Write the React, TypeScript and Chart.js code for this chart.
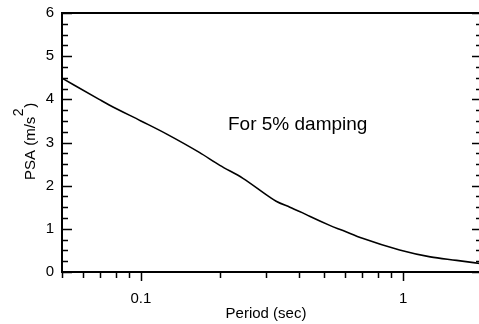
import React, { useEffect, useRef } from "react";
import { Chart, registerables } from "chart.js";

Chart.register(...registerables);

const periods = [0.05, 0.0693, 0.0757, 0.1, 0.125, 0.167, 0.2, 0.245, 0.309, 0.328, 0.37, 0.414, 0.44, 0.525, 0.59, 0.7, 0.97, 1.27, 1.6, 2.0];
const psa = [4.49, 4.0, 3.87, 3.5, 3.2, 2.77, 2.47, 2.17, 1.74, 1.64, 1.5, 1.37, 1.29, 1.08, 0.96, 0.78, 0.51, 0.35, 0.27, 0.19];

const yMajorTicks = [0, 1, 2, 3, 4, 5, 6];
const yMinorStep = 0.25;
const xMajorTicks = [0.1, 1];
const xMajorLabels = ["0.1", "1"];
const xMinorTicks = [0.05, 0.06, 0.07, 0.08, 0.09, 0.2, 0.3, 0.4, 0.5, 0.6, 0.7, 0.8, 0.9, 2];

const xTitle = "Period (sec)";
const yTitleMain = "PSA (m/s";
const yTitleSup = "2";
const yTitleEnd = ")";
const annotationText = "For 5% damping";

const FONT = '"Liberation Sans", Arial, Helvetica, sans-serif';
const CW = 490;
const CH = 324;

const axesPlugin = {
  id: "customAxes",
  afterDraw(chart: any) {
    const ctx = chart.ctx as CanvasRenderingContext2D;
    const a = chart.chartArea;
    const xs = chart.scales.x;
    const ys = chart.scales.y;
    ctx.save();
    ctx.strokeStyle = "#000";
    ctx.fillStyle = "#000";
    // frame
    ctx.lineWidth = 2;
    ctx.strokeRect(a.left, a.top, a.right - a.left, a.bottom - a.top);

    // y ticks (inward on both sides)
    ctx.lineWidth = 1.5;
    for (let v = 0; v <= 6.0001; v += yMinorStep) {
      const y = Math.round(ys.getPixelForValue(v)) + 0.5;
      const major = Math.abs(v - Math.round(v)) < 1e-6;
      const len = major ? 10 : 6;
      ctx.beginPath();
      ctx.moveTo(a.left, y);
      ctx.lineTo(a.left + len, y);
      ctx.moveTo(a.right, y);
      ctx.lineTo(a.right - len, y);
      ctx.stroke();
    }
    // x ticks (outward, below)
    for (const t of xMinorTicks) {
      const x = Math.round(xs.getPixelForValue(t)) + 0.5;
      ctx.beginPath();
      ctx.moveTo(x, a.bottom);
      ctx.lineTo(x, a.bottom + 6);
      ctx.stroke();
    }
    for (const t of xMajorTicks) {
      const x = Math.round(xs.getPixelForValue(t)) + 0.5;
      ctx.beginPath();
      ctx.moveTo(x, a.bottom);
      ctx.lineTo(x, a.bottom + 9);
      ctx.stroke();
    }

    // tick labels
    ctx.font = `15px ${FONT}`;
    ctx.textAlign = "right";
    ctx.textBaseline = "middle";
    for (const v of yMajorTicks) {
      ctx.fillText(String(v), a.left - 8, ys.getPixelForValue(v));
    }
    ctx.textAlign = "center";
    ctx.textBaseline = "alphabetic";
    xMajorTicks.forEach((t, i) => {
      ctx.fillText(xMajorLabels[i], xs.getPixelForValue(t), a.bottom + 31);
    });

    // x title
    ctx.fillText(xTitle, 266, a.bottom + 46);

    // y title rotated with superscript
    ctx.save();
    ctx.translate(35, 180);
    ctx.rotate(-Math.PI / 2);
    ctx.textAlign = "left";
    ctx.font = `15px ${FONT}`;
    ctx.fillText(yTitleMain, 0, 0);
    const w1 = ctx.measureText(yTitleMain).width;
    ctx.font = `14px ${FONT}`;
    ctx.fillText(yTitleSup, w1 + 0.5, -12);
    const w2 = ctx.measureText(yTitleSup).width;
    ctx.font = `15px ${FONT}`;
    ctx.fillText(yTitleEnd, w1 + w2 + 1, 0);
    ctx.restore();

    // annotation
    ctx.font = `19px ${FONT}`;
    ctx.textAlign = "left";
    ctx.fillText(annotationText, 228, 130);

    ctx.restore();
  },
};

export default function App() {
  const ref = useRef<HTMLCanvasElement>(null);
  useEffect(() => {
    document.body.style.overflow = "hidden";
    const canvas = ref.current!;
    const chart = new Chart(canvas, {
      type: "line",
      data: {
        datasets: [
          {
            data: periods.map((p, i) => ({ x: p, y: psa[i] })),
            borderColor: "#000",
            borderWidth: 1.6,
            pointRadius: 0,
            fill: false,
            cubicInterpolationMode: "monotone",
          },
        ],
      },
      options: {
        animation: false,
        responsive: false,
        devicePixelRatio: 1,
        layout: { padding: { left: 62, top: 13, right: CW - 482, bottom: CH - 272 } },
        plugins: { legend: { display: false }, tooltip: { enabled: false } },
        scales: {
          x: { type: "logarithmic", min: 0.05, max: 2, display: false },
          y: { type: "linear", min: 0, max: 6, display: false },
        },
      },
      plugins: [axesPlugin],
    });
    return () => chart.destroy();
  }, []);
  return (
    <div style={{ position: "fixed", left: 0, top: 0, width: CW, height: CH, background: "#fff" }}>
      <canvas ref={ref} width={CW} height={CH} style={{ width: CW, height: CH, display: "block" }} />
    </div>
  );
}
